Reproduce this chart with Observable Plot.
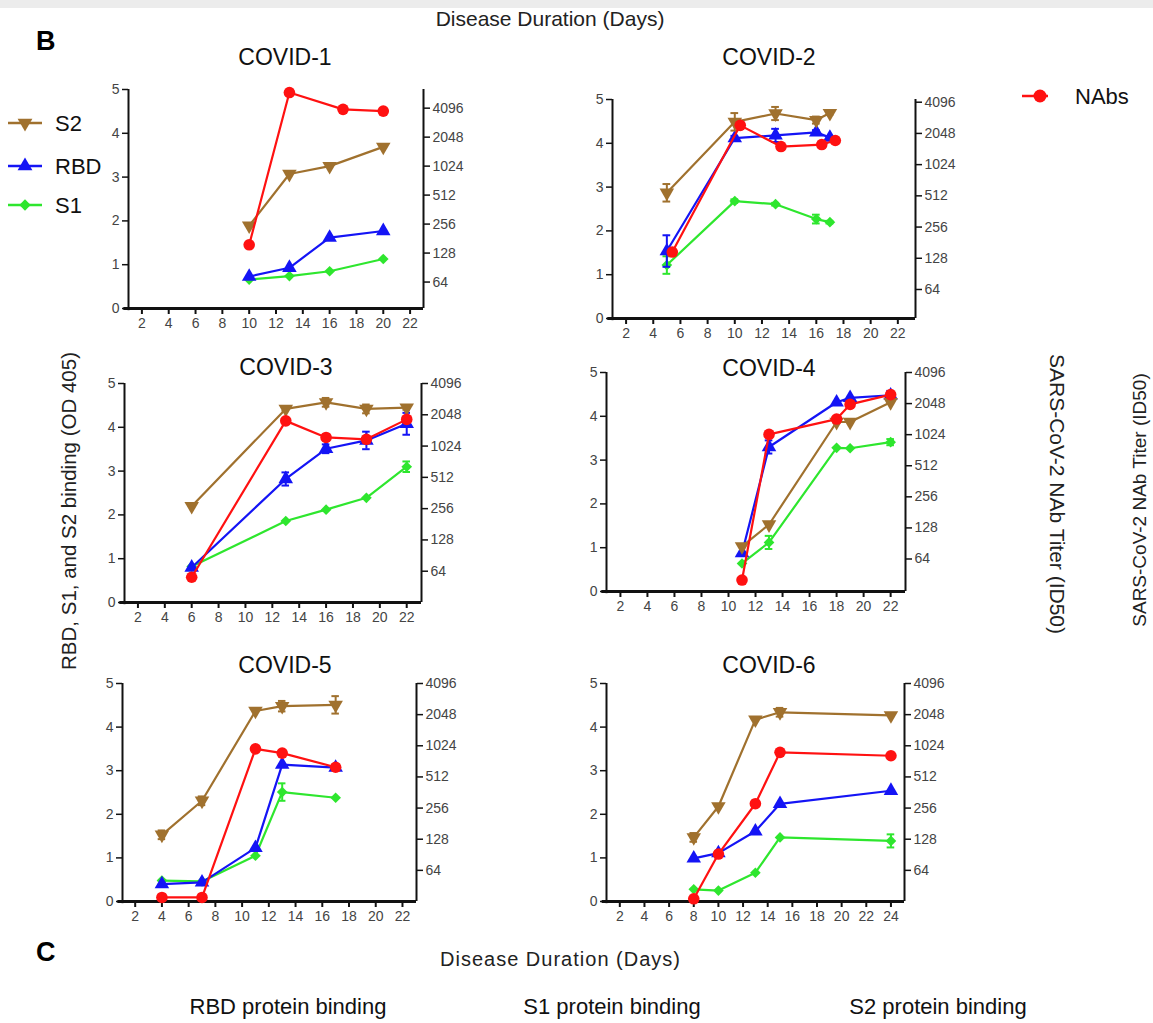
<!DOCTYPE html>
<html><head><meta charset="utf-8">
<script src="https://cdn.jsdelivr.net/npm/d3@7"></script>
<script src="https://cdn.jsdelivr.net/npm/@observablehq/plot@0.6"></script>
<style>
body{margin:0;background:#fff;}
#root{position:relative;width:1153px;height:1023px;overflow:hidden;background:#fff;font-family:"Liberation Sans",Arial,sans-serif;color:#111;}
.abs{position:absolute;}
</style></head><body><div id="root"></div>
<script>
// ---------------- DATA ----------------
const seriesNames = ["S2", "RBD", "S1"];
const nabName = "NAbs";
const panelTitles = ["COVID-1", "COVID-2", "COVID-3", "COVID-4", "COVID-5", "COVID-6"];
const odTicks = [0, 1, 2, 3, 4, 5];
const nabTicks = [64, 128, 256, 512, 1024, 2048, 4096];
const xTicks22 = [2, 4, 6, 8, 10, 12, 14, 16, 18, 20, 22];
const xTicks24 = [2, 4, 6, 8, 10, 12, 14, 16, 18, 20, 22, 24];

// COVID-1
const c1Days = [10, 13, 16, 20];
const c1S2 = [1.89, 3.07, 3.25, 3.69];
const c1RBD = [0.73, 0.93, 1.62, 1.77];
const c1S1 = [0.66, 0.74, 0.85, 1.13];
const c1NabDays = [10, 13, 17, 20];
const c1Nab = [156, 5950, 3980, 3820];

// COVID-2
const c2Days = [5, 10, 13, 16, 17];
const c2S2 = [2.87, 4.49, 4.68, 4.53, 4.69];
const c2S2Err = [0.2, 0.2, 0.15, 0.08, 0.04];
const c2RBD = [1.54, 4.12, 4.18, 4.25, 4.13];
const c2RBDErr = [0.36, 0.05, 0.15, 0.05, 0];
const c2S1 = [1.22, 2.68, 2.61, 2.27, 2.2];
const c2S1Err = [0.2, 0.04, 0.03, 0.1, 0.03];
const c2NabDays = [5.4, 10.4, 13.4, 16.4, 17.4];
const c2Nab = [147, 2450, 1530, 1600, 1750];

// COVID-3
const c3Days = [6, 13, 16, 19, 22];
const c3S2 = [2.2, 4.42, 4.57, 4.42, 4.45];
const c3S2Err = [0, 0.04, 0.1, 0.1, 0.05];
const c3RBD = [0.8, 2.82, 3.51, 3.7, 4.08];
const c3RBDErr = [0, 0.15, 0.1, 0.2, 0.25];
const c3S1 = [0.82, 1.86, 2.12, 2.39, 3.1];
const c3S1Err = [0, 0, 0, 0, 0.12];
const c3NabDays = [6, 13, 16, 19, 22];
const c3Nab = [56, 1790, 1240, 1190, 1850];

// COVID-4
const c4Days = [11, 13, 18, 19, 22];
const c4S2 = [1.03, 1.53, 3.87, 3.87, 4.32];
const c4RBD = [0.88, 3.3, 4.32, 4.42, 4.48];
const c4RBDErr = [0, 0.15, 0, 0, 0.1];
const c4S1 = [0.64, 1.12, 3.28, 3.27, 3.41];
const c4S1Err = [0, 0.15, 0, 0, 0.07];
const c4NabDays = [11, 13, 18, 19, 22];
const c4Nab = [40, 1030, 1450, 2010, 2500];

// COVID-5
const c5Days = [4, 7, 11, 13, 17];
const c5S2 = [1.53, 2.31, 4.37, 4.48, 4.51];
const c5S2Err = [0.1, 0.1, 0, 0.12, 0.2];
const c5RBD = [0.4, 0.44, 1.23, 3.14, 3.07];
const c5S1 = [0.48, 0.46, 1.05, 2.51, 2.38];
const c5S1Err = [0, 0, 0, 0.2, 0];
const c5NabDays = [4, 7, 11, 13, 17];
const c5Nab = [35, 35, 956, 870, 635];

// COVID-6
const c6Days = [8, 10, 13, 15, 24];
const c6S2 = [1.47, 2.18, 4.17, 4.34, 4.27];
const c6S2Err = [0.1, 0, 0, 0.1, 0];
const c6RBD = [0.99, 1.11, 1.61, 2.24, 2.54];
const c6S1 = [0.28, 0.25, 0.66, 1.47, 1.39];
const c6S1Err = [0, 0, 0, 0, 0.15];
const c6NabDays = [8, 10, 13, 15, 24];
const c6Nab = [34, 92, 282, 885, 820];

// ---------------- STYLE / LAYOUT ----------------
const FONT = '"Liberation Sans", Arial, Helvetica, sans-serif';
const colors = {S2: "#a0712e", RBD: "#1414f5", S1: "#2ee62e", NAbs: "#ff1111"};
const symbols = {S2: ["triangle", 180], RBD: ["triangle", 0], S1: ["diamond2", 0]};

const panels = [
  {title: 0, left: 128, right: 423, top: 89, bottom: 308, xdom: [1, 23], nabDom: [34, 6400], xticks: xTicks22,
   days: c1Days, s2: c1S2, rbd: c1RBD, s1: c1S1, nabDays: c1NabDays, nab: c1Nab, tx: 285, ty: 65},
  {title: 1, left: 612, right: 915, top: 99, bottom: 318, xdom: [1, 23.3], nabDom: [33.6, 4350], xticks: xTicks22,
   days: c2Days, s2: c2S2, s2Err: c2S2Err, rbd: c2RBD, rbdErr: c2RBDErr, s1: c2S1, s1Err: c2S1Err, nabDays: c2NabDays, nab: c2Nab, tx: 769, ty: 65},
  {title: 2, left: 124, right: 421, top: 383, bottom: 602, xdom: [1, 23.1], nabDom: [32, 4096], xticks: xTicks22,
   days: c3Days, s2: c3S2, s2Err: c3S2Err, rbd: c3RBD, rbdErr: c3RBDErr, s1: c3S1, s1Err: c3S1Err, nabDays: c3NabDays, nab: c3Nab, tx: 286, ty: 375},
  {title: 3, left: 606, right: 905, top: 372, bottom: 591, xdom: [0.97, 23.1], nabDom: [31, 4096], xticks: xTicks22,
   days: c4Days, s2: c4S2, rbd: c4RBD, rbdErr: c4RBDErr, s1: c4S1, s1Err: c4S1Err, nabDays: c4NabDays, nab: c4Nab, tx: 769, ty: 376},
  {title: 4, left: 122, right: 416, top: 683, bottom: 901, xdom: [1.05, 23.05], nabDom: [32, 4096], xticks: xTicks22,
   days: c5Days, s2: c5S2, s2Err: c5S2Err, rbd: c5RBD, s1: c5S1, s1Err: c5S1Err, nabDays: c5NabDays, nab: c5Nab, tx: 285, ty: 673},
  {title: 5, left: 606, right: 904, top: 683, bottom: 901, xdom: [0.92, 25.1], nabDom: [32, 4096], xticks: xTicks24,
   days: c6Days, s2: c6S2, s2Err: c6S2Err, rbd: c6RBD, s1: c6S1, s1Err: c6S1Err, nabDays: c6NabDays, nab: c6Nab, tx: 769, ty: 673}
];

const root = document.getElementById("root");

// ---------------- BACKGROUND TEXT LAYER ----------------
const bg = d3.select(root).append("svg").attr("class", "abs")
  .style("left", "0px").style("top", "0px").attr("width", 1153).attr("height", 1023)
  .style("font-family", FONT);

bg.append("text").attr("x", 550).attr("y", 26).attr("text-anchor", "middle")
  .attr("font-size", 21).attr("fill", "#222").text("Disease Duration (Days)");
bg.append("rect").attr("x", 0).attr("y", 0).attr("width", 1153).attr("height", 8).attr("fill", "#ececec");
bg.append("text").attr("x", 36).attr("y", 50).attr("font-size", 27).attr("font-weight", "bold").attr("fill", "#000").text("B");
bg.append("text").attr("x", 36).attr("y", 961).attr("font-size", 27).attr("font-weight", "bold").attr("fill", "#000").text("C");
bg.append("text").attr("x", 560).attr("y", 966).attr("text-anchor", "middle")
  .attr("font-size", 20).attr("fill", "#222").attr("textLength", 240).text("Disease Duration (Days)");

panels.forEach(p => {
  bg.append("text").attr("x", p.tx).attr("y", p.ty).attr("text-anchor", "middle")
    .attr("font-size", 23).attr("fill", "#111").text(panelTitles[p.title]);
});

bg.append("text").attr("transform", "translate(76,511) rotate(-90)").attr("text-anchor", "middle")
  .attr("font-size", 20.5).attr("fill", "#222").text("RBD, S1, and S2 binding (OD 405)");
bg.append("text").attr("transform", "translate(1050,494) rotate(90)").attr("text-anchor", "middle")
  .attr("font-size", 21).attr("fill", "#222").text("SARS-CoV-2 NAb Titer (ID50)");
bg.append("text").attr("transform", "translate(1146,500) rotate(-90)").attr("text-anchor", "middle")
  .attr("font-size", 19).attr("fill", "#222").text("SARS-CoV-2 NAb Titer (ID50)");

// legend
const legRows = [["S2", 123], ["RBD", 166], ["S1", 205]];
const symGen = {S2: d3.symbolTriangle, RBD: d3.symbolTriangle, S1: d3.symbolSquare};
legRows.forEach(([k, y]) => {
  bg.append("line").attr("x1", 8).attr("x2", 42).attr("y1", y).attr("y2", y)
    .attr("stroke", colors[k]).attr("stroke-width", 2.5);
  const rot = k === "S2" ? 180 : (k === "S1" ? 45 : 0);
  bg.append("path").attr("d", d3.symbol(symGen[k], k === "S1" ? 64 : 95)())
    .attr("transform", `translate(25,${y}) rotate(${rot})`).attr("fill", colors[k]);
  bg.append("text").attr("x", 55).attr("y", y + 8).attr("font-size", 22).attr("fill", "#111").text(k);
});
bg.append("line").attr("x1", 1022).attr("x2", 1048).attr("y1", 96).attr("y2", 96)
  .attr("stroke", colors.NAbs).attr("stroke-width", 2.5);
bg.append("circle").attr("cx", 1040).attr("cy", 96).attr("r", 6.5).attr("fill", colors.NAbs);
bg.append("text").attr("x", 1075).attr("y", 104).attr("font-size", 22).attr("fill", "#111").text(nabName);

// section C headings
[["RBD protein binding", 288], ["S1 protein binding", 612], ["S2 protein binding", 938]].forEach(([t, x]) => {
  bg.append("text").attr("x", x).attr("y", 1014).attr("text-anchor", "middle").attr("font-size", 22).attr("fill", "#111").text(t);
});

// ---------------- PANELS ----------------
const ML = 40, MR = 55, MT = 12, MB = 32;
const baseStyle = {fontSize: "14px", fontFamily: FONT, background: "transparent", overflow: "visible", color: "#111"};

function seriesRows(days, vals, errs, key) {
  return days.map((d, i) => ({x: d, y: vals[i], e: errs ? errs[i] : 0, key}));
}

panels.forEach(p => {
  const w = p.right - p.left + ML + MR;
  const h = p.bottom - p.top + MT + MB;
  const cap = 0.28 * (p.xdom[1] - p.xdom[0]) / 22;
  const sets = [
    seriesRows(p.days, p.s1, p.s1Err, "S1"),
    seriesRows(p.days, p.rbd, p.rbdErr, "RBD"),
    seriesRows(p.days, p.s2, p.s2Err, "S2")
  ];
  const marks = [
    Plot.ruleY([0], {x1: p.xdom[0] - 0.35, x2: p.xdom[1], stroke: "#111", strokeWidth: 3}),
    Plot.ruleX([p.xdom[0]], {y1: -0.05, y2: 5, stroke: "#111", strokeWidth: 2}),
    Plot.axisX({ticks: p.xticks, tickSize: 6, tickPadding: 4, strokeWidth: 2, stroke: "#111", fill: "#444", fontSize: 14, tickFormat: d => String(d), label: null}),
    Plot.axisY({ticks: odTicks, tickSize: 6, tickPadding: 3, strokeWidth: 1.5, stroke: "#111", fill: "#444", fontSize: 14, tickFormat: d => String(d), label: null})
  ];
  sets.forEach(rows => {
    const k = rows[0].key;
    const c = colors[k];
    const eb = rows.filter(r => r.e > 0);
    marks.push(
      Plot.ruleX(eb, {x: "x", y1: d => d.y - d.e, y2: d => d.y + d.e, stroke: c, strokeWidth: 2}),
      Plot.ruleY(eb, {y: d => d.y + d.e, x1: d => d.x - cap, x2: d => d.x + cap, stroke: c, strokeWidth: 2}),
      Plot.ruleY(eb, {y: d => d.y - d.e, x1: d => d.x - cap, x2: d => d.x + cap, stroke: c, strokeWidth: 2}),
      Plot.line(rows, {x: "x", y: "y", stroke: c, strokeWidth: 2.2}),
      Plot.dot(rows, {x: "x", y: "y", symbol: symbols[k][0], rotate: symbols[k][1], fill: c, r: k === "S1" ? 4.8 : 5.4})
    );
  });
  const odSvg = Plot.plot({
    width: w, height: h, marginLeft: ML, marginRight: MR, marginTop: MT, marginBottom: MB,
    x: {domain: p.xdom, label: null},
    y: {domain: [0, 5], label: null},
    style: baseStyle,
    marks
  });
  odSvg.classList.add("abs");
  odSvg.style.left = (p.left - ML) + "px";
  odSvg.style.top = (p.top - MT) + "px";
  root.appendChild(odSvg);

  const nabRows = p.nabDays.map((d, i) => ({x: d, y: p.nab[i]}));
  const nabSvg = Plot.plot({
    width: w, height: h, marginLeft: ML, marginRight: MR, marginTop: MT, marginBottom: MB,
    x: {domain: p.xdom, axis: null},
    y: {type: "log", base: 2, domain: p.nabDom, axis: null},
    style: baseStyle,
    marks: [
      Plot.ruleX([p.xdom[1]], {stroke: "#111", strokeWidth: 2}),
      Plot.axisY({anchor: "right", ticks: nabTicks, tickSize: 6, tickPadding: 3, strokeWidth: 1.5, stroke: "#111", fill: "#444", fontSize: 14, tickFormat: d => String(d), label: null}),
      Plot.line(nabRows, {x: "x", y: "y", stroke: colors.NAbs, strokeWidth: 2.2}),
      Plot.dot(nabRows, {x: "x", y: "y", fill: colors.NAbs, r: 5.8})
    ]
  });
  nabSvg.classList.add("abs");
  nabSvg.style.left = (p.left - ML) + "px";
  nabSvg.style.top = (p.top - MT) + "px";
  root.appendChild(nabSvg);
});
</script></body></html>
